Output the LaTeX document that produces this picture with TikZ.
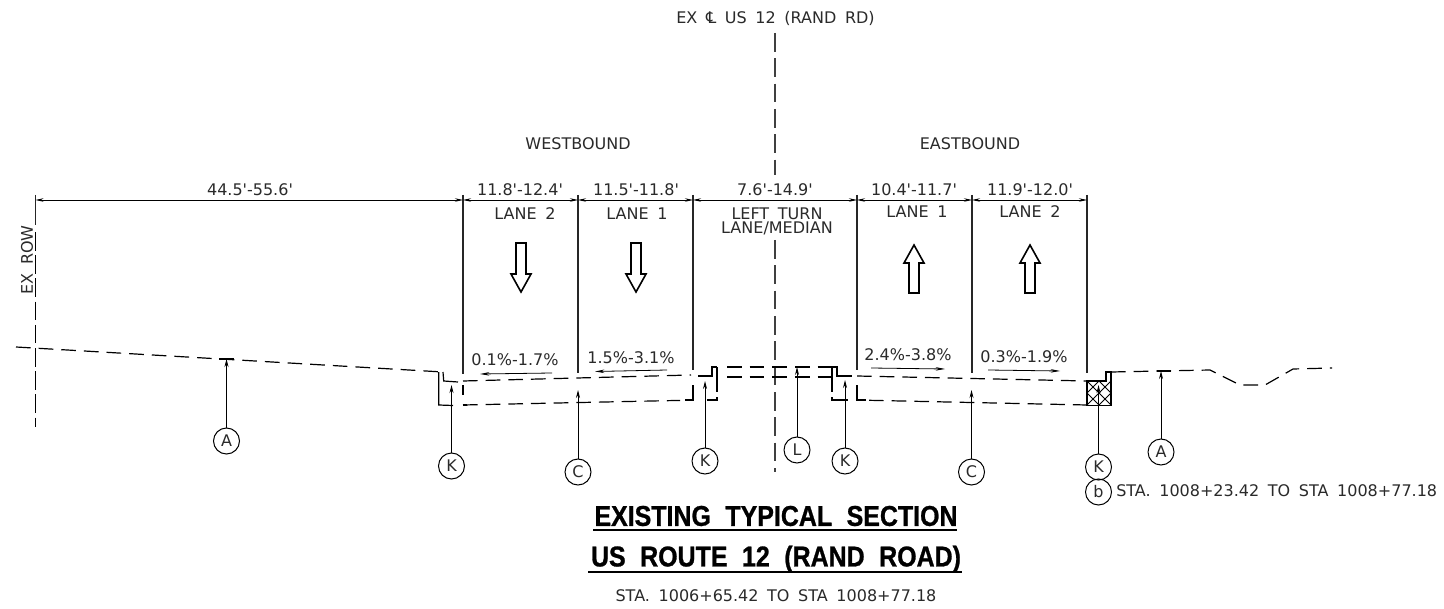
\documentclass[tikz,border=0pt]{standalone}
\usepackage{fontspec}
\setmainfont[WordSpace=1.7]{DejaVu Sans}
\newfontfamily\titlefont[FakeStretch=0.87,FakeBold=0.9,WordSpace=2.1]{Liberation Sans Bold}
\usetikzlibrary{arrows.meta}
\definecolor{ink}{HTML}{2A2A2A}
\newcommand{\ft}{\textquotesingle}
\tikzset{
  lbl/.style={inner sep=0pt,text=ink,font=\fontsize{12pt}{14pt}\selectfont},
  dimlbl/.style={lbl,font=\fontsize{12pt}{14pt}\selectfont},
  tag/.style={circle,draw=black,line width=.75pt,minimum size=19.5pt,inner sep=0pt,text=ink,font=\fontsize{12pt}{14pt}\selectfont},
  leader/.style={draw=black,line width=.7pt,-{Stealth[length=6pt,width=3pt]}},
  extline/.style={draw=black!85,line width=.95pt},
  dimline/.style={draw=black,line width=.55pt,{Stealth[length=6pt,width=2.6pt]}-{Stealth[length=6pt,width=2.6pt]}},
  slope/.style={draw=black,line width=.6pt,-{Stealth[length=7pt,width=2.6pt]}},
  grade/.style={draw=black,line width=.9pt,dash pattern=on 11pt off 6pt},
  solidgrade/.style={draw=black,line width=.9pt},
  cline/.style={draw=black!75,line width=1.1pt,dash pattern=on 14pt off 5pt},
  lanearrow/.style={draw=black,line width=1.2pt,line join=miter},
  titletxt/.style={inner sep=0pt,font=\titlefont\fontsize{21.5pt}{24pt}\selectfont}
}
\begin{document}
\begin{tikzpicture}[x=.75pt,y=-.75pt]
\useasboundingbox (0,0) rectangle (1444,609);
\fill[white] (0,0) rectangle (1444,609);
% vertical extension lines
\foreach \n/\x/\yb in {a/463/374,b/578/373,c/693/370,d/857/370,e/972/373,f/1087/373}{
  \coordinate (top\n) at (\x,195);
  \coordinate (bot\n) at (\x,\yb);
  \coordinate (dim\n) at (\x,200);
  \draw[extline] (top\n) -- (bot\n);
}
\coordinate (row0) at (35.5,195);
\coordinate (row1) at (35.5,225);
\coordinate (row2) at (35.5,232);
\coordinate (row3) at (35.5,427);
\coordinate (dim0) at (35.5,200);
\draw[extline] (row0) -- (row1);
\draw[draw=black,line width=1.4pt,dash pattern=on 14pt off 3.4pt] (row2) -- (row3);
% dimension line
\draw[dimline] (dim0) -- (dima);
\draw[dimline] (dima) -- (dimb);
\draw[dimline] (dimb) -- (dimc);
\draw[dimline] (dimc) -- (dimd);
\draw[dimline] (dimd) -- (dime);
\draw[dimline] (dime) -- (dimf);
% centre line
\coordinate (cl0) at (775,33);
\coordinate (cl1) at (775,175);
\coordinate (cl2) at (775,240);
\coordinate (cl3) at (775,472);
\draw[cline] (cl0) -- (cl1);
\draw[cline] (cl2) -- (cl3);
% ground and pavement
\coordinate (g0) at (16,347);
\coordinate (g1) at (443,372);
\draw[grade] (g0) -- (g1);
\draw[solidgrade] (g1) -- (443.7,381) -- (458,382);
\draw[solidgrade] (438.7,372) -- (438.7,405) -- (453,405.5);
\draw[grade] (463,381) -- (691,375);
\draw[grade] (463,405) -- (680,400.4);
\draw[solidgrade] (467,405) -- (463,405) (463,385) -- (463,395);
\draw[solidgrade] (693,385) -- (693,400) -- (685,400);
\draw[solidgrade] (698,376) -- (712,376) -- (712,367) -- (717,367);
\draw[solidgrade] (717,367) -- (717,392);
\draw[solidgrade] (707,400) -- (717,400) -- (717,397);
\draw[grade] (727,367) -- (834,367);
\draw[grade] (727,377) -- (834,377);
\draw[solidgrade] (832,367) -- (832,392);
\draw[solidgrade] (832,367) -- (837,367) -- (837,376) -- (852,376);
\draw[solidgrade] (832,397) -- (832,400) -- (848,400);
\draw[grade] (857,376) -- (1087,381);
\draw[grade] (869,400.3) -- (1087,405);
\draw[solidgrade] (857,385) -- (857,400) -- (866,400);
% hatched curb
\begin{scope}
\clip (1087,381) -- (1106,381) -- (1106,372) -- (1111,372) -- (1111,405.7) -- (1087,405.7) -- cycle;
\foreach \s in {-24,-12,...,24}{
  \draw[black,line width=.6pt] (1087+\s,381) -- (1087+\s+25,406);
  \draw[black,line width=.6pt] (1111-\s,381) -- (1111-\s-25,406);
}
\end{scope}
\draw[black,line width=1.1pt] (1087,381) -- (1106,381) -- (1106,372) -- (1111,372) -- (1111,405.7) -- (1087,405.7) -- cycle;
\draw[grade] (1111,372) -- (1210,370) -- (1240,385) -- (1265,385) -- (1293,369) -- (1332,368);
% lane arrows
\foreach \x in {521,636}{
  \draw[lanearrow] (\x-5,243) -- (\x+5,243) -- (\x+5,274) -- (\x+10,274) -- (\x,292) -- (\x-10,274) -- (\x-5,274) -- cycle;
}
\foreach \x in {914,1030}{
  \draw[lanearrow] (\x-5,293) -- (\x+5,293) -- (\x+5,263) -- (\x+10,263) -- (\x,245) -- (\x-10,263) -- (\x-5,263) -- cycle;
}
% slope arrows
\foreach \n/\xa/\ya/\xb/\yb in {p/552/373/480/374,q/667/370/595/371.5,r/871/368/945/369,s/988/370/1060/371}{
  \coordinate (\n0) at (\xa,\ya);
  \coordinate (\n1) at (\xb,\yb);
  \draw[slope] (\n0) -- (\n1);
}
% tags and leaders
\node[tag] (A1) at (226.5,441) {A};
\node[tag] (K1) at (451.5,466) {K};
\node[tag] (C1) at (578,472) {C};
\node[tag] (K2) at (705,461) {K};
\node[tag] (L1) at (797,450) {L};
\node[tag] (K3) at (845,461) {K};
\node[tag] (C2) at (971.5,472) {C};
\node[tag] (K4) at (1098.5,467) {K};
\node[tag] (A2) at (1161,452) {A};
\node[tag] (B1) at (1098.5,492) {b};
\coordinate (tA1) at (226.5,359);
\coordinate (tK1) at (451.5,385);
\coordinate (tC1) at (578,390);
\coordinate (tK2) at (705,381);
\coordinate (tL1) at (797,367);
\coordinate (tK3) at (845,380);
\coordinate (tC2) at (971.5,390);
\coordinate (tK4) at (1098.5,385);
\coordinate (tA2) at (1161,371);
\foreach \n in {A1,K1,C1,K2,L1,K3,C2,K4,A2}{ \draw[leader] (\n) -- (t\n); }
\draw[black,line width=.8pt] (219,359) -- (234,359) (1157,371) -- (1171,371);
% texts
\node[lbl] (cltxt) at (775.5,18) {EX ℄ US 12 (RAND RD)};
\node[lbl] (wb) at (578,143.5) {WESTBOUND};
\node[lbl] (eb) at (970,143.5) {EASTBOUND};
\node[dimlbl] (d0) at (250,189.5) {44.5\ft-55.6\ft};
\node[dimlbl] (d1) at (520,189.5) {11.8\ft-12.4\ft};
\node[dimlbl] (d2) at (636,189.5) {11.5\ft-11.8\ft};
\node[dimlbl] (d3) at (775,189.5) {7.6\ft-14.9\ft};
\node[dimlbl] (d4) at (914,189.5) {10.4\ft-11.7\ft};
\node[dimlbl] (d5) at (1030,189.5) {11.9\ft-12.0\ft};
\node[lbl] (l1) at (525,214) {LANE 2};
\node[lbl] (l2) at (637,214) {LANE 1};
\node[lbl] (l3) at (777,214) {LEFT TURN};
\node[lbl] (l4) at (777,228) {LANE/MEDIAN};
\node[lbl] (l5) at (917,212) {LANE 1};
\node[lbl] (l6) at (1030,212) {LANE 2};
\node[dimlbl] (s1) at (515,360) {0.1\%-1.7\%};
\node[dimlbl] (s2) at (631,358) {1.5\%-3.1\%};
\node[dimlbl] (s3) at (908,355) {2.4\%-3.8\%};
\node[dimlbl] (s4) at (1024,357) {0.3\%-1.9\%};
\node[lbl,rotate=90] (row) at (27,260) {EX ROW};
\node[lbl,anchor=west] (sta2) at (1116,491) {STA. 1008+23.42 TO STA 1008+77.18};
\node[lbl] (sta1) at (776,596) {STA. 1006+65.42 TO STA 1008+77.18};
\node[titletxt] (t1) at (776,516) {EXISTING TYPICAL SECTION};
\node[titletxt] (t2) at (776,559) {US ROUTE 12 (RAND ROAD)};
\coordinate (u1a) at (593,530); \coordinate (u1b) at (957,530);
\coordinate (u2a) at (588,572); \coordinate (u2b) at (962,572);
\draw[black,line width=1.1pt] (u1a) -- (u1b);
\draw[black,line width=1.1pt] (u2a) -- (u2b);
\end{tikzpicture}
\end{document}
